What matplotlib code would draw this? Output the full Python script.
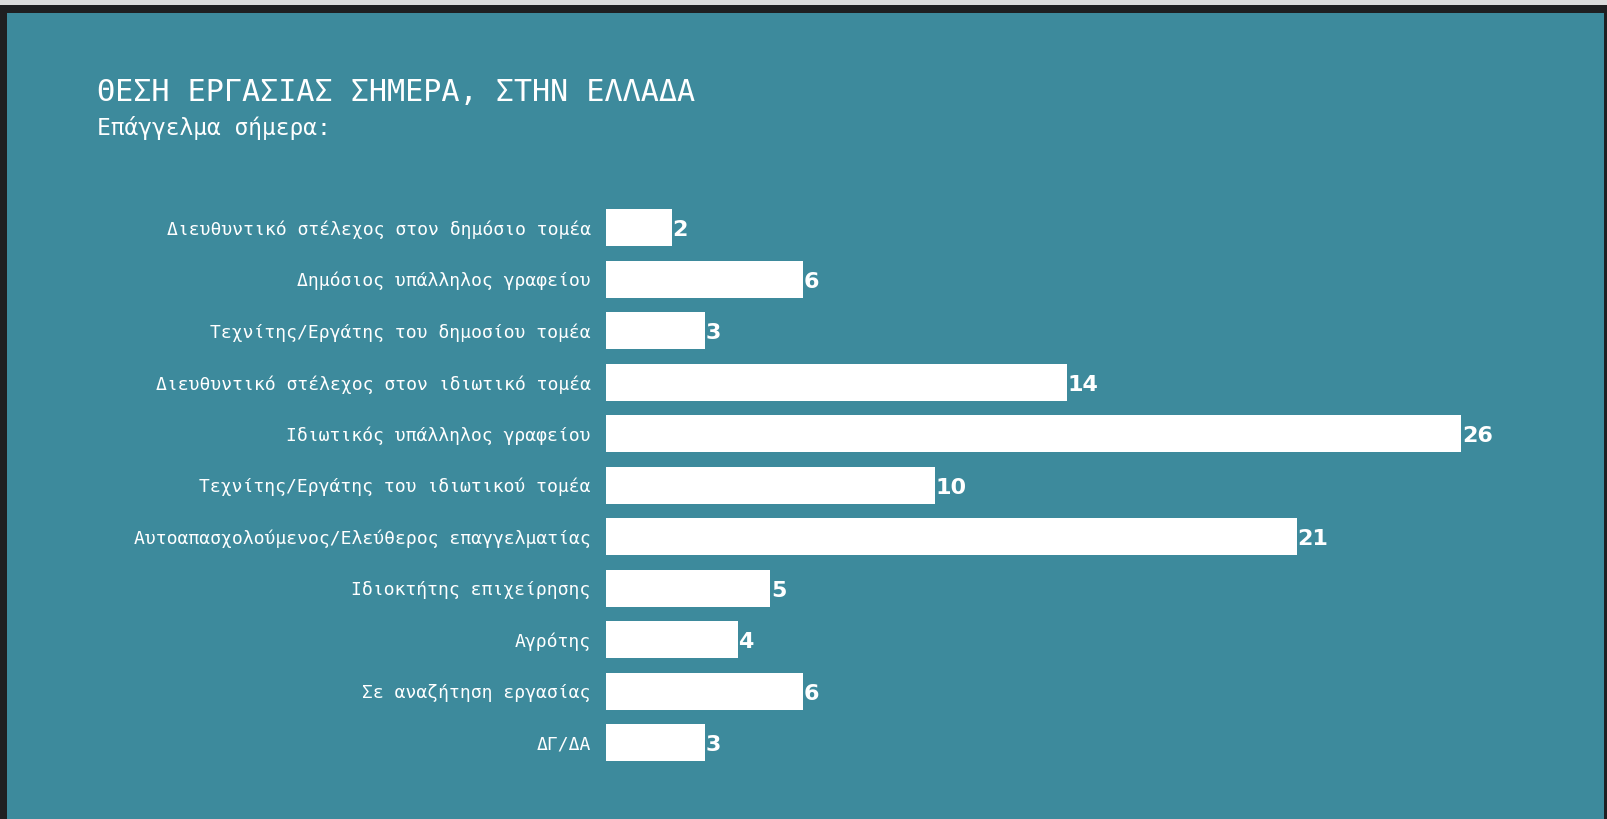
import matplotlib.pyplot as plt
from matplotlib.patches import Rectangle

# data
categories = [
    'Διευθυντικό στέλεχος στον δημόσιο τομέα',
    'Δημόσιος υπάλληλος γραφείου',
    'Τεχνίτης/Εργάτης του δημοσίου τομέα',
    'Διευθυντικό στέλεχος στον ιδιωτικό τομέα',
    'Ιδιωτικός υπάλληλος γραφείου',
    'Τεχνίτης/Εργάτης του ιδιωτικού τομέα',
    'Αυτοαπασχολούμενος/Ελεύθερος επαγγελματίας',
    'Ιδιοκτήτης επιχείρησης',
    'Αγρότης',
    'Σε αναζήτηση εργασίας',
    'ΔΓ/ΔΑ',
]
values = [2, 6, 3, 14, 26, 10, 21, 5, 4, 6, 3]

title = 'ΘΕΣΗ ΕΡΓΑΣΙΑΣ ΣΗΜΕΡΑ, ΣΤΗΝ ΕΛΛΑΔΑ'
subtitle = 'Επάγγελμα σήμερα:'

TEAL = '#3d8a9c'
W, H = 1608, 819

fig = plt.figure(figsize=(W / 100, H / 100), dpi=100)
fig.patch.set_facecolor('#1f1f21')
# light strip on top and the teal panel inside the dark frame
fig.patches.append(Rectangle((0, 1 - 5 / H), 1, 5 / H, transform=fig.transFigure,
                             facecolor='#dcdcdc', edgecolor='none', zorder=-10))
fig.patches.append(Rectangle((7 / W, 0), (1604 - 7) / W, (H - 13) / H, transform=fig.transFigure,
                             facecolor=TEAL, edgecolor='none', zorder=-10))

mono = ['DejaVu Sans Mono']

fig.text(97 / W, 1 - 101 / H, title, color='white', fontsize=21.7, family=mono,
         ha='left', va='baseline')
fig.text(97 / W, 1 - 135 / H, subtitle, color='white', fontsize=16.5, family=mono,
         ha='left', va='baseline')

ax_left = 606
ax_w = 987  # ~32.9 px per unit -> 30 units
ax_top = 202
ax_h = 566.5
ax = fig.add_axes([ax_left / W, 1 - (ax_top + ax_h) / H, ax_w / W, ax_h / H])
ax.set_facecolor('none')
ax.set_zorder(5)

y = list(range(len(categories)))
ax.barh(y, values, height=0.72, color='white', edgecolor='none')
ax.set_xlim(0, 30)
ax.set_ylim(len(categories) - 0.5, -0.5)

for yi, v in zip(y, values):
    ax.text(v + 0.02, yi + 0.05, str(v), color='white', fontsize=16, fontweight='semibold',
            family=['DejaVu Sans'], ha='left', va='center')

ax.set_yticks(y)
ax.set_yticklabels(categories, family=mono, fontsize=13, color='white')
ax.tick_params(axis='y', length=0, pad=11)
ax.set_xticks([])
for s in ax.spines.values():
    s.set_visible(False)

fig.savefig('out.png', dpi=100, facecolor=fig.get_facecolor())
